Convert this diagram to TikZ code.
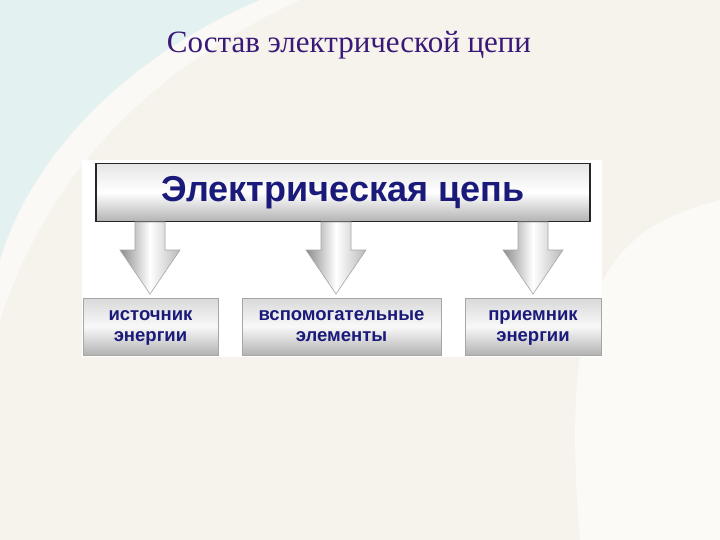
\documentclass[tikz,border=0pt]{standalone}
\usepackage{fontspec}
\setmainfont{Liberation Serif}
\newfontfamily\arial{Liberation Sans}
\usetikzlibrary{calc}
\definecolor{bgcol}{HTML}{F5F3EC}
\definecolor{cyanish}{HTML}{E2F1F1}
\definecolor{titlecol}{HTML}{3A1878}
\definecolor{txtblue}{HTML}{1A1A7A}
\tikzset{
  box/.style={draw=black!85, line width=1.5pt, top color=gray!20, bottom color=gray!60, middle color=white},
  lowbox/.style={draw=gray!70, line width=0.8pt, top color=gray!30, bottom color=gray!60, middle color=gray!5},
  arr/.style={draw=gray!70, line width=0.6pt, left color=gray!90, right color=gray!55, middle color=white},
}
\newcommand{\myarrow}[1]{%
  \path[arr] ($(#1)+(-15,0)$) -- ++(30,0) -- ++(0,28) -- ++(15,0) -- ($(#1)+(0,72)$) -- ($(#1)+(-30,28)$) -- ++(15,0) -- cycle;}
\begin{document}
\begin{tikzpicture}[x=1pt,y=-1pt]
\useasboundingbox (0,0) rectangle (720,540);
\fill[bgcol] (0,0) rectangle (720,540);
\fill[cyanish, opacity=0.9] (0,0) -- (260,0) .. controls (120,60) and (30,160) .. (0,260) -- cycle;
\fill[white, opacity=0.5] (0,260) .. controls (30,160) and (120,60) .. (260,0) -- (300,0) .. controls (150,70) and (50,170) .. (0,320) -- cycle;
\fill[white, opacity=0.6] (720,200) .. controls (600,230) and (560,300) .. (580,540) -- (720,540) -- cycle;
\node (title) at (349,45) {\color{titlecol}\fontsize{31}{34}\selectfont Состав электрической цепи};
\fill[white] (82,160) rectangle (602,357);
\node[box, minimum width=494pt, minimum height=58pt, inner sep=0pt] (top) at (343,192.5)
  {\arial\bfseries\fontsize{36}{40}\selectfont\color{txtblue}Электрическая цепь};
\node[lowbox, minimum width=135pt, minimum height=57pt, inner sep=0pt] (b1) at (150.5,326.5)
  {\arial\bfseries\fontsize{18.5}{21}\selectfont\color{txtblue}\begin{tabular}{@{}c@{}}источник\\энергии\end{tabular}};
\node[lowbox, minimum width=199pt, minimum height=57pt, inner sep=0pt] (b2) at (341.5,326.5)
  {\arial\bfseries\fontsize{18.5}{21}\selectfont\color{txtblue}\begin{tabular}{@{}c@{}}вспомогательные\\элементы\end{tabular}};
\node[lowbox, minimum width=136pt, minimum height=57pt, inner sep=0pt] (b3) at (533,326.5)
  {\arial\bfseries\fontsize{18.5}{21}\selectfont\color{txtblue}\begin{tabular}{@{}c@{}}приемник\\энергии\end{tabular}};
\coordinate (a1) at (150,222);
\coordinate (a2) at (336,222);
\coordinate (a3) at (533,222);
\myarrow{a1}\myarrow{a2}\myarrow{a3}
\end{tikzpicture}
\end{document}
